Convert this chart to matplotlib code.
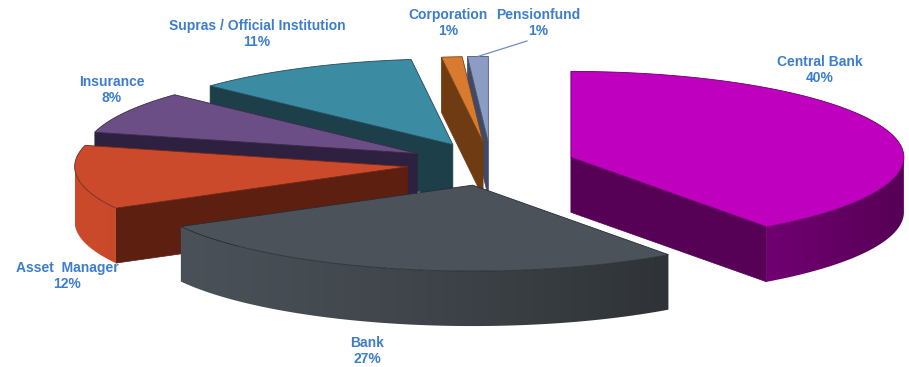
import numpy as np
import matplotlib
matplotlib.use("Agg")
import matplotlib.pyplot as plt
from matplotlib.patches import Polygon
from matplotlib.colors import to_rgb

# holder types and their share of the total (percent)
labels = ["Central Bank", "Bank", "Asset  Manager", "Insurance",
          "Supras / Official Institution", "Corporation", "Pensionfund"]
shares = [40, 27, 12, 8, 11, 1, 1]

top_colors = ["#bf00bf", "#4b5259", "#cb4a2b", "#6b4e85", "#3b8ba3", "#d87a30", "#8c9cc4"]
dark_colors = ["#560056", "#25282b", "#5c1f10", "#2e2140", "#1c3f4a", "#6e3b12", "#3e4a66"]

# label block centres (pixels, y down)
label_pos = [(820, 70), (367, 351), (67, 276), (112, 90), (257, 34), (448, 23), (538, 23)]

# pie geometry in pixels
CX, CY = 491, 164      # centre before exploding
R = 333                # radius
K = 0.258              # vertical squash of the tilted disc
H = 55                 # thickness
EXPLODE = 84

z = [1]


def nextz():
    z[0] += 1
    return z[0]


def proj(cx, cy, ang, r, drop=0.0):
    a = np.radians(ang)
    return cx + r * np.cos(a), cy - r * K * np.sin(a) + drop


def lerp(c1, c2, t):
    c1, c2 = np.array(to_rgb(c1)), np.array(to_rgb(c2))
    t = np.asarray(t)[..., None]
    return c1 + (c2 - c1) * t


def draw_slice(ax, a_lo, a_hi, top, dark):
    mid = 0.5 * (a_lo + a_hi)
    tx, ty = proj(CX, CY, mid, EXPLODE)

    # visible cut faces
    for edge, visible in ((a_hi, np.cos(np.radians(a_hi)) < -1e-6),
                          (a_lo, np.cos(np.radians(a_lo)) > 1e-6)):
        if not visible:
            continue
        ox, oy = proj(tx, ty, edge, R)
        ax.add_patch(Polygon([(tx, ty), (ox, oy), (ox, oy + H), (tx, ty + H)],
                             closed=True, facecolor=dark, edgecolor=dark, lw=0.5,
                             zorder=nextz()))

    # outer wall on the front half, lit from the left
    angs = np.linspace(a_lo, a_hi, max(int((a_hi - a_lo) * 2), 2) + 1)
    front = angs[np.sin(np.radians(angs)) <= 1e-9]
    if len(front) > 1:
        upper = [proj(tx, ty, a, R) for a in front]
        lower = [(x, y + H) for x, y in upper[::-1]]
        wall = Polygon(upper + lower, closed=True, facecolor="none",
                       edgecolor="none", zorder=nextz())
        ax.add_patch(wall)
        xs = np.linspace(tx - R, tx + R, 400)
        t = np.clip(((xs - tx) / R + 1) / 2, 0, 1) ** 1.3
        grad = lerp(top, dark, t)[None, :, :]
        ys = [p[1] for p in upper + lower]
        im = ax.imshow(grad, extent=(tx - R, tx + R, max(ys) + 1, min(ys) - 1),
                       aspect="auto", interpolation="bilinear", zorder=wall.get_zorder())
        im.set_clip_path(wall)

    # top face
    pts = [(tx, ty)] + [proj(tx, ty, a, R) for a in angs]
    ax.add_patch(Polygon(pts, closed=True, facecolor=top,
                         edgecolor=tuple(lerp(top, "#000000", 0.45)), lw=0.6,
                         zorder=nextz()))
    return tx, ty, mid


fig = plt.figure(figsize=(9.09, 3.67), dpi=100)
ax = fig.add_axes([0, 0, 1, 1])

# slice angles, clockwise from 12 o'clock
spans = []
start = 90.0
for s in shares:
    end = start - 3.6 * s
    spans.append((end, start))
    start = end

# paint from the back of the disc to the front
order = sorted(range(len(shares)),
               key=lambda i: -np.sin(np.radians(0.5 * sum(spans[i]))))
tips = {}
for i in order:
    tips[i] = draw_slice(ax, spans[i][0], spans[i][1], top_colors[i], dark_colors[i])

for i, (lab, s) in enumerate(zip(labels, shares)):
    x, y = label_pos[i]
    ax.text(x, y, f"{lab}\n{s}%", ha="center", va="center", multialignment="center",
            fontsize=10, fontweight="bold", color="#3c7dcc",
            family=["Liberation Sans", "DejaVu Sans"], linespacing=1.1, zorder=100)

# leader line for the smallest slice
tx, ty, mid = tips[6]
lx, ly = proj(tx, ty, mid, R)
ax.plot([527, lx], [41, ly], color="#6f8fc0", lw=0.9, zorder=100)

ax.set_xlim(0, 909)
ax.set_ylim(367, 0)
ax.axis("off")

fig.savefig("out.png", dpi=100)
